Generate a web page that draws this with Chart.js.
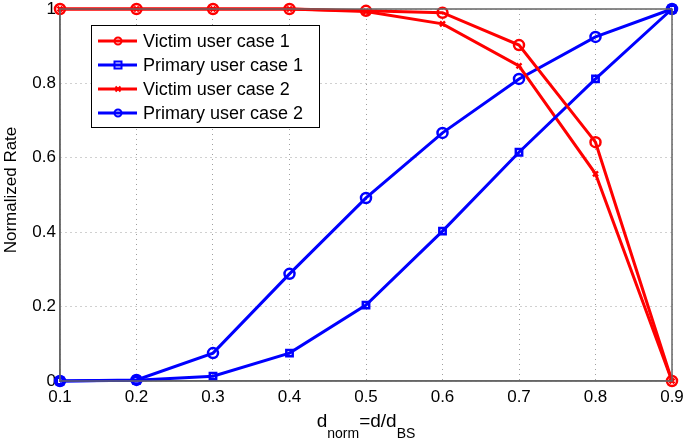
<!DOCTYPE html>
<html>
<head>
<meta charset="utf-8">
<script src="https://cdn.jsdelivr.net/npm/chart.js@4"></script>
<style>
  html, body { margin:0; padding:0; background:#fff; }
  #wrap { width:685px; height:441px; }
</style>
</head>
<body>
<div id="wrap"><canvas id="chart" width="685" height="441"></canvas></div>
<script>
// ── Data ─────────────────────────────────────────────────────
const dNorm      = [0.1, 0.2, 0.3, 0.4, 0.5, 0.6, 0.7, 0.8, 0.9];
const victim1    = [1, 1, 1, 1, 0.995, 0.99, 0.903, 0.642, 0];
const primary1   = [0, 0.002, 0.013, 0.075, 0.204, 0.403, 0.615, 0.812, 1];
const victim2    = [1, 1, 1, 1, 0.993, 0.96, 0.847, 0.557, 0];
const primary2   = [0, 0.003, 0.075, 0.288, 0.492, 0.667, 0.812, 0.925, 1];
const seriesNames = ['Victim user case 1','Primary user case 1','Victim user case 2','Primary user case 2'];
const yTicks     = [0, 0.2, 0.4, 0.6, 0.8, 1];

const RED = '#ff0000', BLUE = '#0000ff';
const FONT = '"Liberation Sans", Arial, Helvetica, sans-serif';

const pts = arr => arr.map((v,i) => ({ x: dNorm[i], y: v }));

function ds(label, data, color, style, radius) {
  return {
    label, data: pts(data),
    borderColor: color, backgroundColor: color,
    borderWidth: 3, pointStyle: style, pointRadius: radius,
    pointBorderWidth: 2.5, pointBackgroundColor: 'rgba(0,0,0,0)',
    pointBorderColor: color, tension: 0
  };
}

// ── Legend / titles drawn by hand ────────────────────────────
const decor = {
  id: 'decor',
  afterDraw(chart) {
    const ctx = chart.ctx;
    ctx.save();
    // legend box
    const bx = 91, by = 25, bw = 228, bh = 102;
    ctx.fillStyle = '#fff';
    ctx.fillRect(bx, by, bw, bh);
    ctx.strokeStyle = '#000'; ctx.lineWidth = 1;
    ctx.strokeRect(bx + 0.5, by + 0.5, bw, bh);
    const sets = chart.data.datasets;
    ctx.font = '18px ' + FONT;
    ctx.textBaseline = 'middle';
    sets.forEach((d, i) => {
      const y = by + 16 + i * 24;
      ctx.strokeStyle = d.borderColor; ctx.lineWidth = 3;
      ctx.beginPath(); ctx.moveTo(bx + 7, y); ctx.lineTo(bx + 46, y); ctx.stroke();
      ctx.lineWidth = 2;
      const cx = bx + 27, r = d.pointStyle === 'crossRot' ? 2.5 : 3.5;
      ctx.beginPath();
      if (d.pointStyle === 'circle') { ctx.arc(cx, y, r, 0, Math.PI * 2); }
      else if (d.pointStyle === 'rect') { ctx.rect(cx - r, y - r, 2 * r, 2 * r); }
      else { ctx.moveTo(cx - r, y - r); ctx.lineTo(cx + r, y + r); ctx.moveTo(cx + r, y - r); ctx.lineTo(cx - r, y + r); }
      ctx.stroke();
      ctx.fillStyle = '#000';
      ctx.textAlign = 'left';
      ctx.fillText(d.label, bx + 52, y + 1);
    });
    // y title
    ctx.save();
    ctx.translate(16, 190);
    ctx.rotate(-Math.PI / 2);
    ctx.textAlign = 'center';
    ctx.textBaseline = 'alphabetic';
    ctx.font = '17px ' + FONT;
    ctx.fillText('Normalized Rate', 0, 0);
    ctx.restore();
    // x title with subscripts
    const a = chart.chartArea;
    const parts = [['d',19,0],['norm',14,11],['=d/d',19,0],['BS',14,11]];
    let w = 0;
    parts.forEach(p => { ctx.font = p[1] + 'px ' + FONT; w += ctx.measureText(p[0]).width; });
    let x = (a.left + a.right) / 2 - w / 2;
    ctx.textAlign = 'left';
    ctx.textBaseline = 'alphabetic';
    parts.forEach(p => {
      ctx.font = p[1] + 'px ' + FONT;
      ctx.fillText(p[0], x, 427 + p[2]);
      x += ctx.measureText(p[0]).width;
    });
    ctx.restore();
  }
};

// ── Chart ────────────────────────────────────────────────────
new Chart(document.getElementById('chart').getContext('2d'), {
  type: 'line',
  data: {
    datasets: [
      ds(seriesNames[0], victim1,  RED,  'circle',   5),
      ds(seriesNames[1], primary1, BLUE, 'rect',     4.5),
      ds(seriesNames[2], victim2,  RED,  'crossRot', 3.5),
      ds(seriesNames[3], primary2, BLUE, 'circle',   5)
    ]
  },
  options: {
    responsive: false,
    animation: false,
    clip: false,
    layout: { padding: { top: 9, right: 13, left: 0, bottom: 0 } },
    plugins: { legend: { display: false }, tooltip: { enabled: false } },
    scales: {
      x: {
        type: 'linear', min: 0.1, max: 0.9,
        afterFit: s => { s.height = 60; s.paddingLeft = 0; s.paddingRight = 0; },
        afterBuildTicks: s => { s.ticks = dNorm.map(v => ({ value: v })); },
        ticks: { color: '#000', font: { family: FONT, size: 17 }, padding: 6,
                 callback: v => v.toFixed(1) },
        grid: { color: '#a0a0a0', lineWidth: 1, drawTicks: false },
        border: { display: true, color: '#666', width: 1.5 }
      },
      y: {
        min: 0, max: 1,
        afterFit: s => { s.width = 60; s.paddingTop = 0; s.paddingBottom = 0; },
        afterBuildTicks: s => { s.ticks = yTicks.map(v => ({ value: v })); },
        ticks: { color: '#000', font: { family: FONT, size: 17 }, padding: 4,
                 callback: v => String(v) },
        grid: { color: '#a0a0a0', lineWidth: 1, drawTicks: false },
        border: { display: true, color: '#666', width: 1.5 }
      }
    }
  },
  plugins: [decor, {
    id: 'gridDash',
    beforeDraw(chart) {
      chart.options.scales.x.border.dash = [1, 4];
      chart.options.scales.y.border.dash = [1, 4];
    }
  }, {
    id: 'frame',
    afterDatasetsDraw(chart) {
      const a = chart.chartArea, ctx = chart.ctx;
      ctx.save();
      ctx.strokeStyle = '#666'; ctx.lineWidth = 1.5;
      ctx.strokeRect(a.left, a.top, a.right - a.left, a.bottom - a.top);
      ctx.restore();
    }
  }]
});
</script>
</body>
</html>
